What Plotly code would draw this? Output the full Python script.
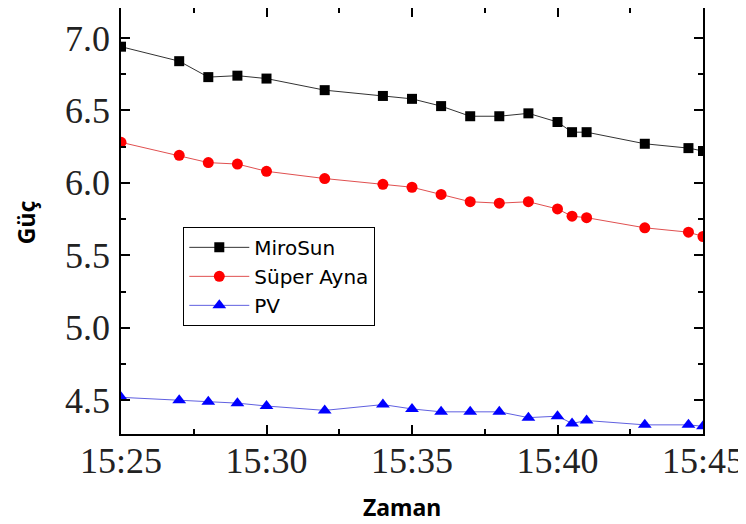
import plotly.graph_objects as go

times = ["15:25", "15:27", "15:28", "15:29", "15:30", "15:32", "15:34", "15:35", "15:36",
         "15:37", "15:38", "15:39", "15:40", "15:40:30", "15:41", "15:43", "15:44:30", "15:45"]
mirosun = [6.94, 6.84, 6.73, 6.74, 6.72, 6.64, 6.60, 6.58, 6.53,
           6.46, 6.46, 6.48, 6.42, 6.35, 6.35, 6.27, 6.24, 6.22]
super_ayna = [6.28, 6.19, 6.14, 6.13, 6.08, 6.03, 5.99, 5.97, 5.92,
              5.87, 5.86, 5.87, 5.82, 5.77, 5.76, 5.69, 5.66, 5.63]
pv = [4.52, 4.50, 4.49, 4.48, 4.46, 4.43, 4.47, 4.44, 4.42,
      4.42, 4.42, 4.38, 4.39, 4.34, 4.36, 4.33, 4.33, 4.32]
series_names = ["MiroSun", "Süper Ayna", "PV"]
x_title = "Zaman"
y_title = "Güç"

x = ["2020-01-01 " + (t if t.count(":") == 2 else t + ":00") for t in times]

fig = go.Figure()
fig.add_trace(go.Scatter(x=x, y=mirosun, name=series_names[0], mode="lines+markers",
                         line=dict(color="#333333", width=1),
                         marker=dict(symbol="square", size=10, color="black")))
fig.add_trace(go.Scatter(x=x, y=super_ayna, name=series_names[1], mode="lines+markers",
                         line=dict(color="#e05050", width=1),
                         marker=dict(symbol="circle", size=11, color="#ff0000")))
fig.add_trace(go.Scatter(x=x, y=pv, name=series_names[2], mode="lines+markers",
                         line=dict(color="#6060e0", width=1),
                         marker=dict(symbol="triangle-up", size=12, color="#0000ff")))

tick_font = dict(family="Liberation Serif", size=36, color="#222222")
title_font = dict(family="Noto Sans", size=23, color="black")

# plot area (figure pixels)
L, R, T, B = 112.7, 51.3, 0, 97.7
PW = 746 - L - R
PH = 524 - T - B

fig.update_layout(
    width=746, height=524,
    margin=dict(l=L, r=R, t=T, b=B, autoexpand=False),
    paper_bgcolor="white", plot_bgcolor="white",
    showlegend=True,
    legend=dict(x=(175 - L) / PW, y=(PH - 219) / PH, xanchor="left", yanchor="top",
                bordercolor="black", borderwidth=1, bgcolor="white",
                font=dict(family="DejaVu Sans", size=20, color="black"),
                itemwidth=60, tracegroupgap=0),
    xaxis=dict(
        type="date", automargin=False,
        range=["2020-01-01 15:25:00", "2020-01-01 15:45:00"],
        tick0="2020-01-01 15:25:00", dtick=300000, tickformat="%H:%M",
        ticks="inside", ticklen=9, tickwidth=1.5, tickcolor="black",
        minor=dict(dtick=150000, ticks="inside", ticklen=5, tickwidth=1.5, tickcolor="black"),
        showline=True, linecolor="black", linewidth=1.5, mirror="ticks",
        showgrid=False, zeroline=False,
        tickfont=tick_font, ticklabelstandoff=-6,
    ),
    yaxis=dict(
        range=[4.267, 7.207], automargin=False,
        tick0=4.5, dtick=0.5, tickformat=".1f",
        ticks="inside", ticklen=9, tickwidth=1.5, tickcolor="black",
        minor=dict(dtick=0.25, ticks="inside", ticklen=5, tickwidth=1.5, tickcolor="black"),
        showline=True, linecolor="black", linewidth=1.5, mirror="ticks",
        showgrid=False, zeroline=False,
        tickfont=tick_font, ticklabelstandoff=2,
    ),
    annotations=[
        dict(text="<b>" + x_title + "</b>", xref="paper", yref="paper",
             x=(394 - L) / PW, y=-(499 - PH) / PH,
             xanchor="center", yanchor="middle", showarrow=False, font=title_font),
        dict(text="<b>" + y_title + "</b>", xref="paper", yref="paper",
             x=-(L - 18) / PW, y=(PH - 214) / PH, textangle=-90,
             xanchor="center", yanchor="middle", showarrow=False, font=title_font),
    ],
)

fig.write_html("out.html")
